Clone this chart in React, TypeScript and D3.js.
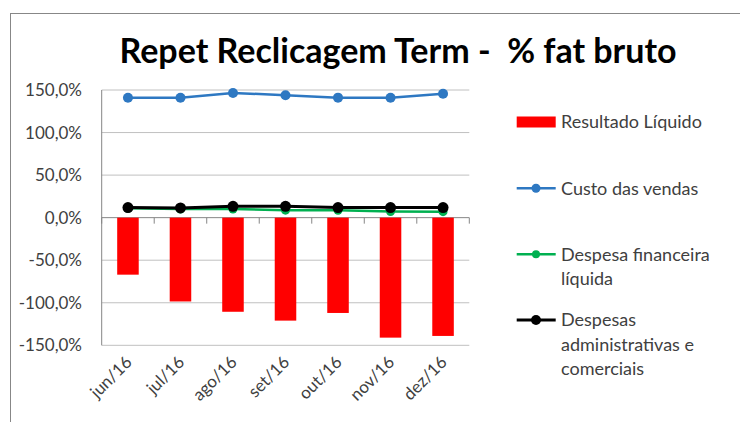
import React from "react";
import * as d3 from "d3";

const months = ["jun/16", "jul/16", "ago/16", "set/16", "out/16", "nov/16", "dez/16"];
const resultadoLiquido = [-67, -98.5, -110.6, -121, -112, -141, -139];
const custoVendas = [140.8, 140.8, 146.5, 143.9, 141, 140.8, 145.5];
const despesaFinanceira = [11, 10.2, 10.2, 8.8, 8.6, 7.2, 7];
const despesasAdm = [11.8, 11.4, 13.3, 13.3, 11.8, 11.8, 11.8];
const yTicks = [-150, -100, -50, 0, 50, 100, 150];

const width = 740;
const height = 422;
const font = "Lato, 'Open Sans', sans-serif";
const textColor = "#404040";

const lineSeries = [
  { name: "Custo das vendas", values: custoVendas, color: "#2e78c2", sw: 2.5, r: 5 },
  { name: "Despesa financeira líquida", values: despesaFinanceira, color: "#00b050", sw: 2.5, r: 4.5 },
  { name: "Despesas administrativas e comerciais", values: despesasAdm, color: "#000000", sw: 3, r: 5.5 },
];

export default function App() {
  const plot = { left: 101.7, right: 469.3, top: 90, bottom: 345.3 };
  const x = d3.scaleBand<string>().domain(months).range([plot.left, plot.right]).paddingInner(0).paddingOuter(0);
  const y = d3.scaleLinear().domain([-150, 150]).range([plot.bottom, plot.top]);
  const cx = (m: string) => (x(m) as number) + x.bandwidth() / 2;
  const barW = x.bandwidth() * 0.41;
  const fmt = (v: number) => d3.format(".1f")(v).replace(".", ",").replace("−", "-") + "%";
  const line = d3.line<number>().x((_, i) => cx(months[i])).y((d) => y(d));

  const legend = [
    { kind: "bar", lines: ["Resultado Líquido"], y: 122, color: "#ff0000" },
    { kind: "line", lines: ["Custo das vendas"], y: 188.3, s: lineSeries[0] },
    { kind: "line", lines: ["Despesa financeira", "líquida"], y: 254.3, s: lineSeries[1] },
    { kind: "line", lines: ["Despesas", "administrativas e", "comerciais"], y: 320, s: lineSeries[2] },
  ];

  return (
    <svg width={width} height={height} style={{ position: "absolute", left: 0, top: 0, background: "#fff" }} fontFamily={font}>
      <rect x={10.5} y={13.5} width={740} height={420} fill="#fff" stroke="#878787" strokeWidth={1} />
      <text x={398} y={63} textAnchor="middle" fontSize={34} fontWeight="bold" fill="#000" style={{ whiteSpace: "pre" }}>
        {"Repet Reclicagem Term -  % fat bruto"}
      </text>

      {yTicks.map((t) => (
        <g key={t}>
          <line x1={plot.left} x2={plot.right} y1={y(t)} y2={y(t)} stroke={t === 0 ? "#868686" : "#c0c0c0"} strokeWidth={1} />
          <text x={82} y={y(t)} dy="0.35em" textAnchor="end" fontSize={17} fill={textColor}>
            {fmt(t)}
          </text>
        </g>
      ))}
      <line x1={plot.left} x2={plot.left} y1={plot.top} y2={plot.bottom} stroke="#868686" />
      {months.map((m) => (
        <line key={m} x1={x(m) as number} x2={x(m) as number} y1={y(0)} y2={y(0) + 6} stroke="#868686" />
      ))}
      <line x1={plot.right} x2={plot.right} y1={y(0)} y2={y(0) + 6} stroke="#868686" />

      {months.map((m, i) => (
        <rect key={m} x={cx(m) - barW / 2} width={barW} y={y(0)} height={y(resultadoLiquido[i]) - y(0)} fill="#ff0000" />
      ))}

      {lineSeries.map((s) => (
        <g key={s.name}>
          <path d={line(s.values) as string} fill="none" stroke={s.color} strokeWidth={s.sw} />
          {s.values.map((v, i) => (
            <circle key={i} cx={cx(months[i])} cy={y(v)} r={s.r} fill={s.color} />
          ))}
        </g>
      ))}

      {months.map((m) => (
        <text key={m} transform={`translate(${cx(m) + 5},${y(-150) + 18}) rotate(-45)`} textAnchor="end" fontSize={17} fill={textColor}>
          {m}
        </text>
      ))}

      {legend.map((l, i) => (
        <g key={i}>
          {l.kind === "bar" ? (
            <rect x={516.7} y={l.y - 5.5} width={39} height={11} fill="#ff0000" />
          ) : (
            <g>
              <line x1={516.7} x2={555.7} y1={l.y} y2={l.y} stroke={l.s!.color} strokeWidth={l.s!.sw} />
              <circle cx={536} cy={l.y} r={l.s!.r - 0.5} fill={l.s!.color} />
            </g>
          )}
          {l.lines.map((t, j) => (
            <text key={j} x={561} y={l.y + j * 24.5} dy="0.35em" fontSize={18} fill={textColor}>
              {t}
            </text>
          ))}
        </g>
      ))}
    </svg>
  );
}
